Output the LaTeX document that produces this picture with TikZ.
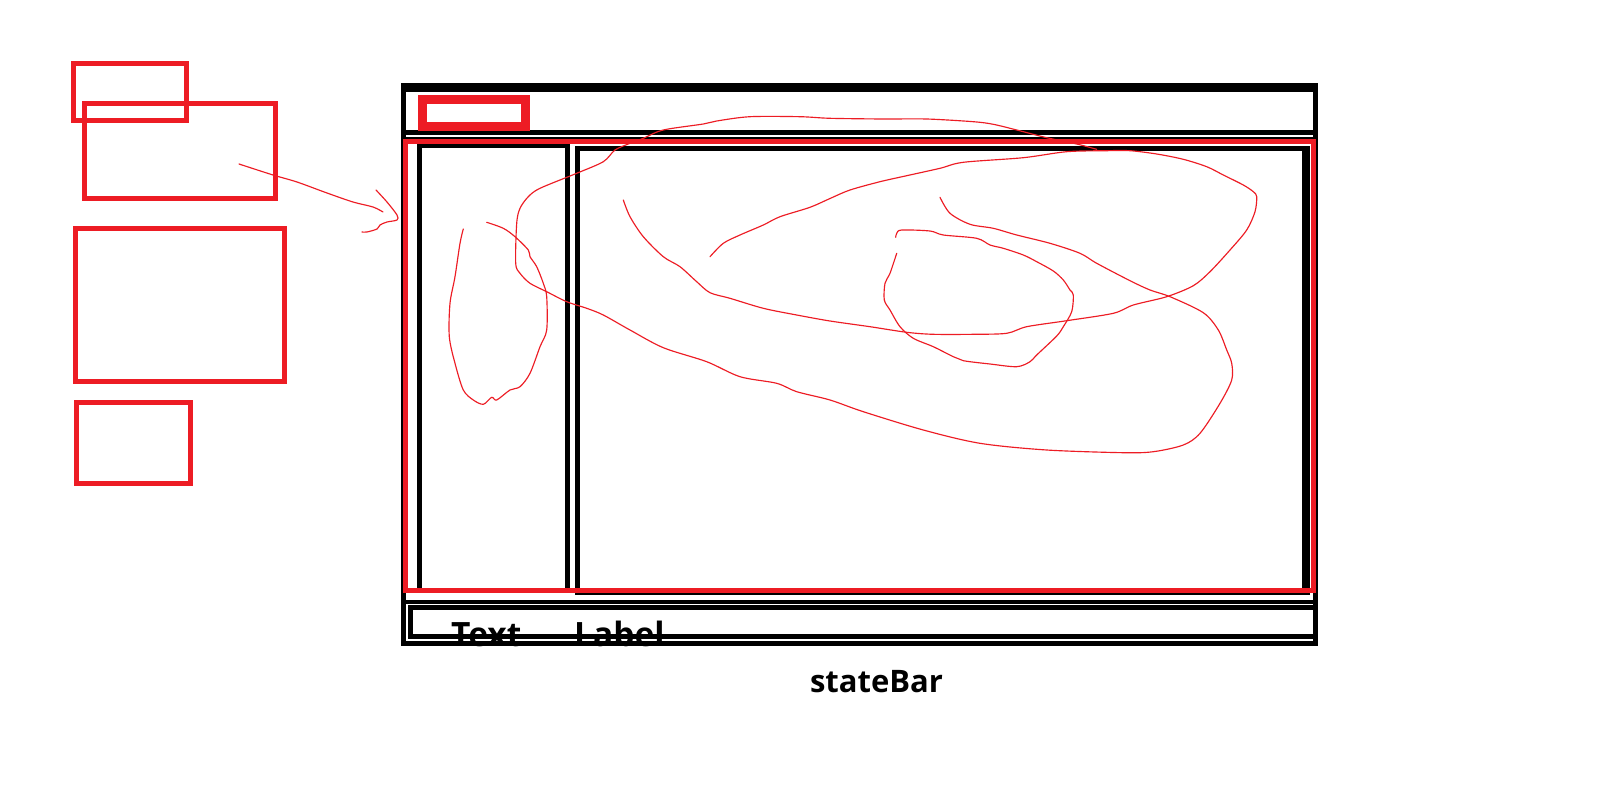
\documentclass[tikz,border=0pt]{standalone}
\usepackage{fontspec}
\setmainfont{Open Sans}
\definecolor{pred}{RGB}{237,28,36}
\begin{document}
\begin{tikzpicture}[x=1pt,y=-1pt,
  redbox/.style={draw=pred,line width=5pt},
  blk/.style={draw=black,line width=5pt},
  scrib/.style={draw=pred,line width=1.15pt,line join=round,line cap=round},
  lbl/.style={inner sep=0pt,font=\bfseries\fontsize{33.5}{40}\selectfont},
  captext/.style={inner sep=0pt,font=\bfseries\fontsize{31}{37}\selectfont}]
\useasboundingbox[fill=white] (0,0) rectangle (1600,800);

% left red boxes
\draw[redbox] (73.5,63.5) rectangle (186.5,120.5);
\draw[redbox] (84.5,103.5) rectangle (275.5,198.5);
\draw[redbox] (75.5,228.5) rectangle (284.5,381.5);
\draw[redbox] (76.5,402.5) rectangle (190.5,483.5);

% status bar texts (drawn first, lines over them)
\node[lbl,anchor=base west] (ttext) at (451,646) {Text};
\node[lbl,anchor=base west] (tlabel) at (574,646) {Label};
\fill[white] (380,647) rectangle (700,680);
\node[captext,anchor=base] (tstate) at (876.5,692) {stateBar};

% window frame
\draw[blk] (403.5,85.5) rectangle (1315,643.5);
\draw[black,line width=5pt] (401,89.5) -- (1318,89.5);
\draw[black,line width=5pt] (403.5,132.5) -- (1315,132.5);
\draw[black,line width=2pt] (403.5,137.5) -- (1313,137.5);
% left panel
\draw[blk] (419.5,145.5) rectangle (567.5,590.5);
% right panel
\draw[blk] (577.5,148.5) rectangle (1305,592.5);
\draw[black,line width=8pt] (1306,146) -- (1306,595);
% separator and status bar
\draw[black,line width=4pt] (403.5,601.5) -- (1315,601.5);
\draw[blk] (410,607.5) rectangle (1315.5,636.5);

% red overlays
\draw[draw=pred,line width=9pt] (422.5,99.5) rectangle (525.5,126.5);
\draw[redbox] (405.5,141.5) rectangle (1313.5,590.5);

% arrow scribble
\draw[scrib] plot[smooth,tension=0.5] coordinates {(239,164) (273,175) (297,182) (327,193) (353,202) (373,207) (383,212)};
\draw[scrib] plot[smooth,tension=0.5] coordinates {(376,190) (387,202) (397,215) (397,220) (387,222) (380,225) (377,229) (367,232) (362,232)};

% oval in left panel
\draw[scrib] plot[smooth,tension=0.5] coordinates {(463.3,229) (460,243.3) (455,276.7) (450,303.3) (449.3,336.7) (455,363.3) (463.3,390) (473.3,400) (483.3,404.3) (491.7,397.3) (496.7,400) (510,390) (520,386.7) (530,373.3) (540,346.7) (546.7,330) (546.7,296.7) (543.3,283.3) (536.7,266.7) (530,256.7) (528.3,250) (515,236.7) (503.3,228.3) (486.7,222.3)};

% big loop
\draw[scrib] plot[smooth,tension=0.5] coordinates {(1096.7,149.3) (1076.7,144) (1046.7,137.7) (1016.7,130) (993.3,124.3) (973.3,121.7) (926.7,119) (883.3,119) (830,118.3) (800,116.7) (750,116.7) (716.7,121) (703.3,124) (663.3,130) (643.3,138.3) (630,143.3) (615,150) (603.3,161.7) (576.7,173.3) (540,188.3) (528.3,196.7) (520,208.3) (516.7,223.3) (515.7,263.3) (520,273.3) (530,283.3) (546.7,291.7) (566.7,301.7) (586.7,308.3) (603.3,315) (630,330) (663.3,347.7) (706.7,361.7) (740,376.7) (776.7,383.3) (796.7,391.7) (830,400) (863.3,411.7) (923.3,430) (980,443.3) (1046.7,450) (1123.3,452.7) (1153.3,451.7) (1183.3,445) (1200,433.3) (1220,403.3) (1231.7,380) (1231.7,363.3) (1226.7,350) (1218.3,330) (1203.3,312.7) (1170,296.7) (1150,290) (1130,280.7) (1096.7,263.3) (1080,253.3) (1050,243.3) (1016.7,235) (993.3,228.3) (970,224.3) (950,213.3) (940,197.3)};

% long curve in right panel
\draw[scrib] plot[smooth,tension=0.5] coordinates {(623.3,200) (630,216.7) (643.3,236.7) (663.3,256.7) (680,266.7) (696.7,281.7) (710,292.7) (730,298.3) (763.3,308.3) (796.7,315) (830,321) (870,326.7) (906.7,332.3) (933.3,334.3) (973.3,334.3) (1006.7,333.3) (1026.7,326.7) (1066.7,320.7) (1113.3,313.3) (1133.3,305) (1166.7,296.7) (1193.3,285.7) (1210,271.7) (1230,250) (1246.7,230) (1255,211.7) (1256.7,196.7) (1253.3,191.7) (1243.3,185) (1223.3,175) (1206.7,166.7) (1183.3,159.3) (1156.7,154) (1130,150.7) (1106.7,150.7) (1066.7,151.7) (1023.3,157.7) (963.3,162.3) (940,168.3) (906.7,175.7) (880,181.7) (850,190) (830,198.5) (810,207.3) (780,216.7) (763.3,225) (740,235) (723.3,243.3) (710,256.7)};

% inner loop
\draw[scrib] plot[smooth,tension=0.5] coordinates {(896.7,253.3) (890,273.3) (885,283.3) (884.3,300) (890,310) (900,326.7) (913.3,338.3) (933.3,346.7) (953.3,356.7) (963.3,360.7) (990,364) (1016.7,366.7) (1030,361.7) (1036.7,355) (1056.7,336) (1063.3,326.7) (1071.7,311.7) (1073.3,295) (1070,290) (1063.3,280) (1053.3,271) (1036.7,261.7) (1023.3,255) (1003.3,248.3) (990,245) (976.7,238.3) (943.3,235) (930,231) (901.7,230) (896.7,233.3) (895.7,237.3)};
\end{tikzpicture}
\end{document}
